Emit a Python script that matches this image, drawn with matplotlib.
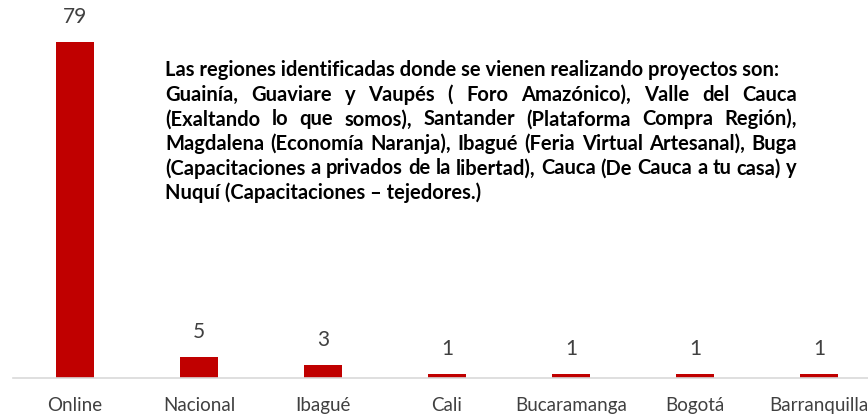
import matplotlib
matplotlib.use('Agg')
import matplotlib.pyplot as plt

categories = ['Online', 'Nacional', 'Ibagué', 'Cali', 'Bucaramanga', 'Bogotá', 'Barranquilla']
values = [79, 5, 3, 1, 1, 1, 1]

note_lines = [
    'Las regiones identificadas donde se vienen realizando proyectos son:',
    'Guainía, Guaviare y Vaupés ( Foro Amazónico), Valle del Cauca',
    '(Exaltando lo que somos), Santander (Plataforma Compra Región),',
    'Magdalena (Economía Naranja), Ibagué (Feria Virtual Artesanal), Buga',
    '(Capacitaciones a privados de la libertad), Cauca (De Cauca a tu casa) y',
    'Nuquí (Capacitaciones – tejedores.)',
]
justified = [False, True, True, True, True, False]

plt.rcParams['font.family'] = ['Lato', 'DejaVu Sans']

W, H = 868, 416
fig = plt.figure(figsize=(W / 100, H / 100), dpi=100)
ax = fig.add_axes([13 / W, (H - 378) / H, 7 * 124 / W, (378 - 42) / H])

x = range(len(categories))
ax.bar(x, values, width=38 / 124, color='#C00000')
ax.set_xlim(-0.5, 6.5)
ax.set_ylim(0, 79)
for i, v in enumerate(values):
    ax.annotate(str(v), (i, v), xytext=(0, 25), textcoords='offset pixels',
                ha='center', va='center', fontsize=15, color='#404040')

ax.set_xticks(list(x))
ax.set_xticklabels(categories, fontsize=13.5, color='#404040')
ax.tick_params(axis='x', length=0, pad=14)
ax.set_yticks([])
for s in ['top', 'right', 'left']:
    ax.spines[s].set_visible(False)
ax.spines['bottom'].set_color('#D9D9D9')
ax.spines['bottom'].set_linewidth(1.2)

# justified note block
left, right = 165, 797
top_y = 70
step = 24.6
fs = 14.5
renderer = fig.canvas.get_renderer()
for k, (line, just) in enumerate(zip(note_lines, justified)):
    ypix = H - (top_y + k * step)
    if not just:
        fig.text(left / W, ypix / H, line, fontsize=fs, fontweight='bold',
                 va='center', ha='left')
        continue
    words = line.split(' ')
    arts = [fig.text(0, ypix / H, w, fontsize=fs, fontweight='bold', va='center', ha='left')
            for w in words]
    widths = [a.get_window_extent(renderer).width for a in arts]
    gap = (right - left - sum(widths)) / (len(words) - 1)
    xpos = left
    for a, wd in zip(arts, widths):
        a.set_x(xpos / W)
        xpos += wd + gap

fig.savefig('out.png', dpi=100)
